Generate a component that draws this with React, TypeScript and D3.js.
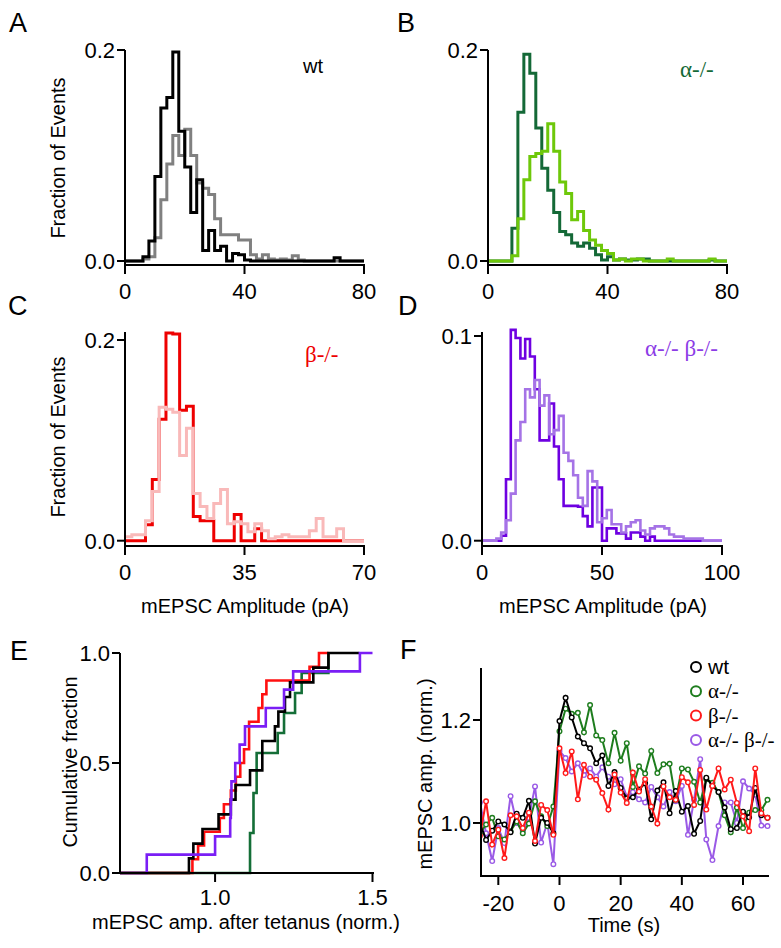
import React from "react";
import * as d3 from "d3";

const SANS = "'Liberation Sans', Arial, Helvetica, sans-serif";
const SERIF = "'Liberation Serif', 'Times New Roman', serif";

// ---------- Panels A-D: amplitude histograms (2 pA bins, fraction of events) ----------
const binWidth = 2;
// A: wt (black = control, gray = second condition), bins 0..80 pA
const histA_black = [0, 0, 0, 0.004, 0.019, 0.08, 0.145, 0.155, 0.198, 0.123, 0.089, 0.046, 0.077, 0.01, 0.029, 0.01, 0.014, 0, 0.007, 0.006, 0.001, 0, 0, 0, 0, 0, 0, 0, 0, 0, 0, 0, 0, 0, 0, 0.003, 0, 0, 0, 0];
const histA_gray = [0, 0, 0, 0.002, 0.004, 0.022, 0.058, 0.092, 0.119, 0.1, 0.125, 0.1, 0.074, 0.069, 0.063, 0.04, 0.025, 0.025, 0.025, 0.02, 0.02, 0.006, 0.002, 0.006, 0.002, 0.001, 0.002, 0.001, 0.005, 0.001, 0, 0, 0, 0, 0, 0, 0, 0, 0, 0];
// B: alpha-/- (dark green / light green), bins 0..80 pA
const histB_dark = [0, 0, 0, 0, 0.031, 0.141, 0.196, 0.178, 0.126, 0.088, 0.067, 0.046, 0.028, 0.025, 0.017, 0.014, 0.017, 0.012, 0.006, 0.001, 0.004, 0.001, 0.002, 0.001, 0.001, 0.002, 0.002, 0, 0, 0, 0, 0, 0, 0, 0, 0, 0, 0.001, 0, 0];
const histB_light = [0, 0, 0, 0, 0.005, 0.04, 0.077, 0.099, 0.102, 0.104, 0.13, 0.104, 0.075, 0.064, 0.039, 0.047, 0.029, 0.02, 0.015, 0.01, 0.007, 0.001, 0.002, 0, 0.002, 0.002, 0, 0, 0, 0, 0.002, 0, 0, 0, 0, 0, 0, 0.002, 0, 0];
// C: beta-/- (red / pink), bins 0..70 pA
const histC_red = [0, 0, 0, 0.016, 0.061, 0.121, 0.207, 0.206, 0.13, 0.134, 0.024, 0.02, 0.02, 0, 0, 0, 0.026, 0, 0, 0.012, 0, 0, 0, 0, 0, 0, 0, 0, 0, 0, 0, 0, 0, 0, 0];
const histC_pink = [0.004, 0.006, 0.006, 0.02, 0.049, 0.133, 0.131, 0.128, 0.085, 0.112, 0.047, 0.034, 0.022, 0.037, 0.051, 0.017, 0.019, 0.017, 0.009, 0.017, 0.01, 0.002, 0.004, 0.006, 0.004, 0.004, 0.004, 0.01, 0.022, 0.004, 0.004, 0.012, 0, 0, 0];
// D: alpha-/- beta-/- (dark purple / light purple), bins 0..100 pA
const histD_dark = [0, 0, 0, 0, 0.0024, 0.03, 0.103, 0.099, 0.089, 0.0985, 0.09, 0.074, 0.049, 0.049, 0.067, 0.046, 0.03, 0.017, 0.017, 0.017, 0.0166, 0.012, 0.007, 0.026, 0.026, 0, 0.006, 0.006, 0.0036, 0.0036, 0.001, 0.004, 0.004, 0.002, 0, 0.002, 0, 0, 0, 0, 0, 0, 0, 0, 0, 0, 0, 0, 0, 0];
const histD_light = [0, 0, 0, 0.001, 0.004, 0.01, 0.023, 0.049, 0.058, 0.074, 0.07, 0.0785, 0.066, 0.071, 0.052, 0.054, 0.061, 0.043, 0.039, 0.032, 0.021, 0.017, 0.034, 0.029, 0.009, 0.011, 0.015, 0.008, 0.008, 0.004, 0.007, 0.009, 0.01, 0.005, 0.003, 0.006, 0.007, 0.007, 0.006, 0.003, 0.002, 0.002, 0.001, 0.001, 0.001, 0.001, 0, 0, 0, 0];

const ticksAB_x = [0, 40, 80];
const ticksC_x = [0, 35, 70];
const ticksD_x = [0, 50, 100];
const ticksABC_y = [0, 0.2];
const ticksD_y = [0, 0.1];

// ---------- Panel E: per-cell mEPSC amplitude after tetanus (normalised) ----------
const cellsWt = [0.917, 0.931, 0.96, 1.011, 1.05, 1.065, 1.111, 1.15, 1.15, 1.19, 1.201, 1.222, 1.238, 1.312, 1.36];
const cellsAlpha = [1.111, 1.111, 1.122, 1.122, 1.132, 1.132, 1.199, 1.219, 1.254, 1.275, 1.36];
const cellsBeta = [0.928, 0.946, 0.965, 1.015, 1.028, 1.05, 1.066, 1.08, 1.092, 1.108, 1.108, 1.138, 1.15, 1.163, 1.3, 1.33];
const cellsAlphaBeta = [0.783, 1.0, 1.048, 1.05, 1.052, 1.064, 1.078, 1.095, 1.161, 1.219, 1.248, 1.46];
const cellsEnd = [1.458, 1.36, 1.36, 1.5];
const ticksE_x = [1.0, 1.5];
const ticksE_y = [0, 0.5, 1.0];

// ---------- Panel F: mEPSC amplitude time course ----------
const timeF = [-26, -24, -22, -20, -18, -16, -14, -12, -10, -8, -6, -4, -2, 0, 2, 4, 6, 8, 10, 12, 14, 16, 18, 20, 22, 24, 26, 28, 30, 32, 34, 36, 38, 40, 42, 44, 46, 48, 50, 52, 54, 56, 58, 60, 62, 64, 66, 68];
const ampWt = [
  1.0, 0.967, 0.985, 1.003, 0.997, 0.982, 1.018, 1.01,
  1.043, 0.96, 1.01, 1.0, 0.98, 1.198, 1.243, 1.205,
  1.168, 1.155, 1.145, 1.116, 1.131, 1.072, 1.099, 1.068,
  1.048, 1.05, 1.065, 1.077, 1.007, 1.063, 1.079, 1.019,
  1.062, 1.022, 1.033, 0.979, 1.004, 1.088, 1.072, 1.06,
  1.03, 0.988, 0.99, 1.022, 1.011, 1.068, 1.015, 1.01];
const ampAlpha = [
  0.98, 0.997, 1.01, 0.974, 0.968, 0.984, 1.003, 0.98,
  0.999, 1.042, 1.013, 0.994, 1.032, 1.178, 1.222, 1.212,
  1.214, 1.176, 1.229, 1.17, 1.161, 1.116, 1.175, 1.121,
  1.155, 1.07, 1.11, 1.096, 1.14, 1.097, 1.114, 1.115,
  1.045, 1.106, 1.104, 1.08, 1.04, 1.085, 1.078, 1.06,
  1.015, 0.982, 1.03, 0.99, 1.02, 1.025, 1.025, 1.045];
const ampBeta = [
  0.975, 1.042, 0.958, 0.987, 0.932, 1.015, 1.013, 0.99,
  1.02, 0.965, 1.035, 1.025, 0.977, 1.145, 1.097, 1.139,
  1.046, 1.113, 1.09, 1.084, 1.058, 1.026, 1.094, 1.059,
  1.039, 1.098, 1.061, 1.085, 1.032, 0.999, 1.071, 1.05,
  1.045, 1.089, 1.079, 1.035, 1.103, 1.026, 1.072, 1.106,
  1.065, 1.084, 1.039, 1.013, 0.984, 1.106, 1.019, 1.01];
const ampAlphaBeta = [
  1.04, 0.98, 0.926, 0.99, 0.961, 1.052, 1.0, 0.985,
  1.01, 1.071, 0.962, 1.0, 0.92, 1.14, 1.126, 1.1,
  1.116, 1.093, 1.106, 1.09, 1.108, 1.09, 1.075, 1.085,
  1.051, 1.06, 1.046, 1.04, 1.07, 1.05, 1.032, 1.06,
  1.042, 1.072, 0.977, 1.045, 1.124, 0.968, 0.928, 0.994,
  1.04, 1.04, 1.0, 1.081, 1.067, 1.055, 0.995, 0.994];
const ticksF_x = [-20, 0, 20, 40, 60];
const ticksF_y = [1.0, 1.2];
const legendF = ["wt", "α-/-", "β-/-", "α-/- β-/-"];

type Scale = d3.ScaleLinear<number, number>;

const TICK_FS = 22;

function AxisBottom({ scale, y, ticks, fmt, x0, x1, labelY }: { scale: Scale; y: number; ticks: number[]; fmt: (v: number) => string; x0: number; x1: number; labelY: number }) {
  return (
    <g>
      <line x1={x0 - 1} x2={x1 + 1} y1={y} y2={y} stroke="#000" strokeWidth={2} />
      {ticks.map((t, i) => (
        <g key={i}>
          <line x1={scale(t)} x2={scale(t)} y1={y} y2={y + 9} stroke="#000" strokeWidth={2} />
          <text x={scale(t)} y={labelY} textAnchor="middle" fontSize={TICK_FS} fontFamily={SANS}>{fmt(t)}</text>
        </g>
      ))}
    </g>
  );
}

function AxisLeft({ scale, x, ticks, fmt, y0, y1 }: { scale: Scale; x: number; ticks: number[]; fmt: (v: number) => string; y0: number; y1: number }) {
  return (
    <g>
      <line x1={x} x2={x} y1={y0} y2={y1 + 1} stroke="#000" strokeWidth={2} />
      {ticks.map((t, i) => (
        <g key={i}>
          <line x1={x - 8} x2={x} y1={scale(t)} y2={scale(t)} stroke="#000" strokeWidth={2} />
          <text x={x - 10} y={scale(t)} dy="0.36em" textAnchor="end" fontSize={TICK_FS} fontFamily={SANS}>{fmt(t)}</text>
        </g>
      ))}
    </g>
  );
}

function histPath(values: number[], xs: Scale, ys: Scale, xMax: number) {
  const pts: [number, number][] = values.map((v, i) => [i * binWidth, v]);
  pts.push([xMax, values[values.length - 1]]);
  return d3.line<[number, number]>().x(d => xs(d[0])).y(d => ys(d[1])).curve(d3.curveStepAfter)(pts) || "";
}

function cumPath(vals: number[], xMin: number, xEnd: number, xs: Scale, ys: Scale) {
  const sorted = [...vals].sort((a, b) => a - b);
  const n = sorted.length;
  const pts: [number, number][] = [[xMin, 0]];
  sorted.forEach((v, i) => pts.push([v, (i + 1) / n]));
  pts.push([xEnd, 1]);
  return d3.line<[number, number]>().x(d => xs(d[0])).y(d => ys(d[1])).curve(d3.curveStepAfter)(pts) || "";
}

const f1 = (v: number) => v.toFixed(1);
const f0 = (v: number) => String(v);

function rotLabel(x: number, y: number, text: string) {
  return (
    <text transform={`translate(${x},${y}) rotate(-90)`} textAnchor="middle" fontSize={20} fontFamily={SANS}>{text}</text>
  );
}

export default function App() {
  const xA = d3.scaleLinear().domain([0, 80]).range([125, 364]);
  const yA = d3.scaleLinear().domain([0, 0.2]).range([261, 50]);
  const xB = d3.scaleLinear().domain([0, 80]).range([488, 727]);
  const yB = yA;
  const xC = d3.scaleLinear().domain([0, 70]).range([125, 364]);
  const yC = d3.scaleLinear().domain([0, 0.2]).range([540.7, 340]);
  const xD = d3.scaleLinear().domain([0, 100]).range([482, 722]);
  const yD = d3.scaleLinear().domain([0, 0.1]).range([540.7, 336]);
  const eMin = 0.698;
  const xE = d3.scaleLinear().domain([eMin, 1.5]).range([120, 372.5]);
  const yE = d3.scaleLinear().domain([0, 1]).range([873, 653]);
  const xF = d3.scaleLinear().domain([-25.66, 68.17]).range([481, 768]);
  const yF = d3.scaleLinear().domain([0.897, 1.301]).range([876, 668]);

  const eSeries = [
    { vals: cellsAlpha, end: cellsEnd[1], color: "#146e37" },
    { vals: cellsBeta, end: cellsEnd[2], color: "#ff1010" },
    { vals: cellsWt, end: cellsEnd[0], color: "#000000" },
    { vals: cellsAlphaBeta, end: cellsEnd[3], color: "#7a1ef5" },
  ];

  const fColors = ["#000000", "#1e7d1e", "#ff1a1a", "#9a5ae6"];
  const fSeries = [
    { vals: ampAlphaBeta, color: fColors[3] },
    { vals: ampAlpha, color: fColors[1] },
    { vals: ampWt, color: fColors[0] },
    { vals: ampBeta, color: fColors[2] },
  ];
  const fLine = d3.line<number>().x((_, i) => xF(timeF[i])).y(d => yF(d));

  return (
    <svg width={781} height={948} viewBox="0 0 781 948" style={{ position: "absolute", left: 0, top: 0, background: "#fff" }} fontFamily={SANS}>
      <rect x={0} y={0} width={781} height={948} fill="#fff" />
      <defs>
        <clipPath id="clipF"><rect x={481} y={660} width={292} height={216} /></clipPath>
      </defs>

      <text x={9} y={32} fontSize={27} fontFamily={SANS}>A</text>
      <text x={397} y={32} fontSize={27} fontFamily={SANS}>B</text>
      <text x={8} y={315} fontSize={27} fontFamily={SANS}>C</text>
      <text x={398} y={315} fontSize={27} fontFamily={SANS}>D</text>
      <text x={10} y={660} fontSize={27} fontFamily={SANS}>E</text>
      <text x={400} y={659} fontSize={27} fontFamily={SANS}>F</text>

      {/* A */}
      <path d={histPath(histA_gray, xA, yA, 80)} fill="none" stroke="#808080" strokeWidth={3} />
      <path d={histPath(histA_black, xA, yA, 80)} fill="none" stroke="#000" strokeWidth={3} />
      <AxisLeft scale={yA} x={125} ticks={ticksABC_y} fmt={f1} y0={50} y1={265} />
      <AxisBottom scale={xA} y={265} ticks={ticksAB_x} fmt={f0} x0={125} x1={364} labelY={299} />
      {rotLabel(65, 158, "Fraction of Events")}
      <text x={303} y={73} fontSize={20} fontFamily={SANS}>wt</text>

      {/* B */}
      <path d={histPath(histB_dark, xB, yB, 80)} fill="none" stroke="#146937" strokeWidth={3} />
      <path d={histPath(histB_light, xB, yB, 80)} fill="none" stroke="#6ec80a" strokeWidth={3} />
      <AxisLeft scale={yB} x={488} ticks={ticksABC_y} fmt={f1} y0={50} y1={265} />
      <AxisBottom scale={xB} y={265} ticks={ticksAB_x} fmt={f0} x0={488} x1={727} labelY={299} />
      <text x={680} y={77} fontSize={23} fontFamily={SERIF} fill="#146937">α-/-</text>

      {/* C */}
      <path d={histPath(histC_red, xC, yC, 70)} fill="none" stroke="#ee0000" strokeWidth={3} />
      <path d={histPath(histC_pink, xC, yC, 70)} fill="none" stroke="#f9b9b9" strokeWidth={3} />
      <AxisLeft scale={yC} x={125} ticks={ticksABC_y} fmt={f1} y0={332} y1={546} />
      <AxisBottom scale={xC} y={546} ticks={ticksC_x} fmt={f0} x0={125} x1={364} labelY={580} />
      {rotLabel(65, 437, "Fraction of Events")}
      <text x={245} y={613} textAnchor="middle" fontSize={20} fontFamily={SANS}>mEPSC Amplitude (pA)</text>
      <text x={305} y={362} fontSize={23} fontFamily={SERIF} fill="#ee0000">β-/-</text>

      {/* D */}
      <path d={histPath(histD_dark, xD, yD, 100)} fill="none" stroke="#6e00e1" strokeWidth={2.6} />
      <path d={histPath(histD_light, xD, yD, 100)} fill="none" stroke="#a573e6" strokeWidth={2.6} />
      <AxisLeft scale={yD} x={482} ticks={ticksD_y} fmt={f1} y0={332} y1={546} />
      <AxisBottom scale={xD} y={546} ticks={ticksD_x} fmt={f0} x0={482} x1={722} labelY={580} />
      <text x={603} y={613} textAnchor="middle" fontSize={20} fontFamily={SANS}>mEPSC Amplitude (pA)</text>
      <text x={645} y={356} fontSize={23} fontFamily={SERIF} fill="#8c3ce6">α-/- β-/-</text>

      {/* E */}
      {eSeries.map((s, i) => (
        <path key={i} d={cumPath(s.vals, eMin, s.end, xE, yE)} fill="none" stroke={s.color} strokeWidth={2.6} />
      ))}
      <AxisLeft scale={yE} x={120} ticks={ticksE_y} fmt={f1} y0={653} y1={873} />
      <AxisBottom scale={xE} y={873} ticks={ticksE_x} fmt={f1} x0={120} x1={373} labelY={905} />
      {rotLabel(77, 762, "Cumulative fraction")}
      <text x={246} y={929} textAnchor="middle" fontSize={20} fontFamily={SANS}>mEPSC amp. after tetanus (norm.)</text>

      {/* F */}
      <g clipPath="url(#clipF)">
        {fSeries.map((s, i) => (
          <g key={i}>
            <path d={fLine(s.vals) || ""} fill="none" stroke={s.color} strokeWidth={2} />
            {s.vals.map((v, j) => (
              <circle key={j} cx={xF(timeF[j])} cy={yF(v)} r={2.3} fill="#fff" stroke={s.color} strokeWidth={1.4} />
            ))}
          </g>
        ))}
      </g>
      <AxisLeft scale={yF} x={481} ticks={ticksF_y} fmt={f1} y0={668} y1={876} />
      <AxisBottom scale={xF} y={876} ticks={ticksF_x} fmt={f0} x0={481} x1={768} labelY={911} />
      {rotLabel(432, 774, "mEPSC amp. (norm.)")}
      <text x={624} y={932} textAnchor="middle" fontSize={20} fontFamily={SANS}>Time (s)</text>
      {legendF.map((name, i) => {
        const cy = 667 + i * 24.3;
        return (
          <g key={i}>
            <circle cx={696} cy={cy} r={5} fill="#fff" stroke={fColors[i]} strokeWidth={2} />
            <text x={708} y={cy + 7} fontSize={21} fontFamily={i === 0 ? SANS : SERIF}>{name}</text>
          </g>
        );
      })}
    </svg>
  );
}
